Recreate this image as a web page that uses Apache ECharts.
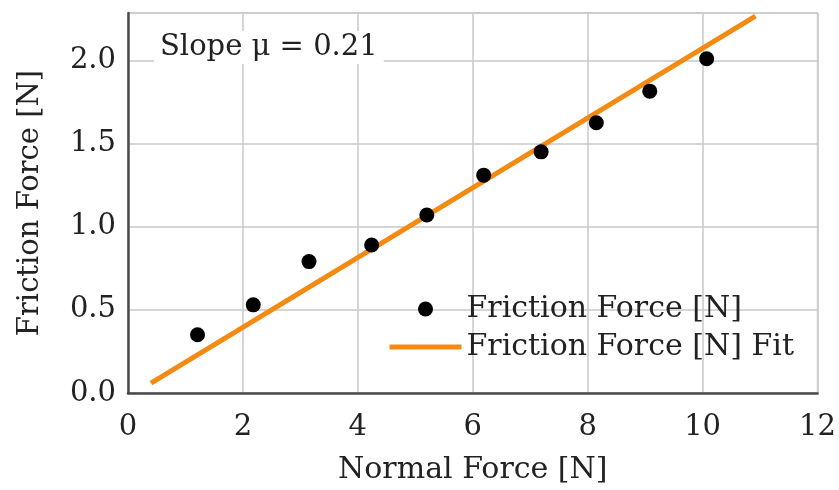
<!DOCTYPE html>
<html><head><meta charset="utf-8">
<script src="https://cdn.jsdelivr.net/npm/echarts@6/dist/echarts.min.js"></script>
<style>html,body{margin:0;padding:0;background:#fff}#c{width:839px;height:490px}</style>
</head><body><div id="c"></div>
<script>
const normalForce = [1.21, 2.18, 3.15, 4.24, 5.2, 6.19, 7.19, 8.15, 9.08, 10.07];
const frictionForce = [0.35, 0.53, 0.79, 0.89, 1.07, 1.31, 1.45, 1.625, 1.815, 2.01];
const fitX = [0.4, 10.92];
const fitY = [0.06, 2.266];
const xTicks = [0, 2, 4, 6, 8, 10, 12];
const yTicks = [0.0, 0.5, 1.0, 1.5, 2.0];
const seriesNames = ['Friction Force [N]', 'Friction Force [N] Fit'];
const slopeLabel = 'Slope \u03bc = 0.21';

const FONT = 'DejaVu Serif';
const FS = 29;
const TXT = '#222';
const chart = echarts.init(document.getElementById('c'), null, {renderer: 'canvas'});
chart.setOption({
  animation: false,
  backgroundColor: '#fff',
  textStyle: {fontFamily: FONT, color: TXT},
  grid: {left: 128, right: 19, top: 13, bottom: 93, show: true, borderColor: '#cfcfcf', borderWidth: 1.5},
  xAxis: {
    type: 'value', min: xTicks[0], max: xTicks[xTicks.length - 1], interval: 2,
    name: 'Normal Force [N]', nameLocation: 'middle', nameGap: 62,
    nameTextStyle: {fontFamily: FONT, fontSize: 30, color: TXT},
    axisLine: {show: true, lineStyle: {color: '#4a4a4a', width: 2.5}},
    axisTick: {show: false},
    axisLabel: {fontFamily: FONT, fontSize: FS, color: TXT, margin: 20},
    splitLine: {show: true, lineStyle: {color: '#c8c8c8', width: 1.5}}
  },
  yAxis: {
    type: 'value', min: 0, max: 2.285, interval: 0.5,
    name: 'Friction Force [N]', nameLocation: 'middle', nameGap: 83,
    nameTextStyle: {fontFamily: FONT, fontSize: FS, color: TXT},
    axisLine: {show: true, lineStyle: {color: '#4a4a4a', width: 2.5}},
    axisTick: {show: false},
    axisLabel: {fontFamily: FONT, fontSize: FS, color: TXT, margin: 12,
      formatter: v => (yTicks.indexOf(v) >= 0 ? v.toFixed(1) : '')},
    splitLine: {show: true, lineStyle: {color: '#c8c8c8', width: 1.5}}
  },
  legend: {
    orient: 'vertical', left: 382, top: 289, itemWidth: 72, itemHeight: 15, itemGap: 8, itemTextGap: 6,
    textStyle: {fontFamily: FONT, fontSize: 30, color: TXT, lineHeight: 30},
    data: [
      {name: seriesNames[0], icon: 'circle'},
      {name: seriesNames[1], itemStyle: {opacity: 0}, lineStyle: {width: 5, color: '#f48a12'}}
    ]
  },
  graphic: [{
    type: 'text', left: 154, top: 31, z: 100,
    style: {text: slopeLabel, font: FS + 'px "DejaVu Serif"', fill: TXT,
      backgroundColor: '#fff', padding: [2, 6, 2, 6]}
  }],
  series: [
    {
      name: seriesNames[1], type: 'line', z: 2,
      data: fitX.map((x, i) => [x, fitY[i]]),
      showSymbol: false, symbol: 'none',
      lineStyle: {color: '#f48a12', width: 5}, itemStyle: {color: '#f48a12'}
    },
    {
      name: seriesNames[0], type: 'scatter', z: 3,
      data: normalForce.map((x, i) => [x, frictionForce[i]]),
      symbol: 'circle', symbolSize: 15,
      itemStyle: {color: '#000', opacity: 1}
    }
  ]
});
</script></body></html>
